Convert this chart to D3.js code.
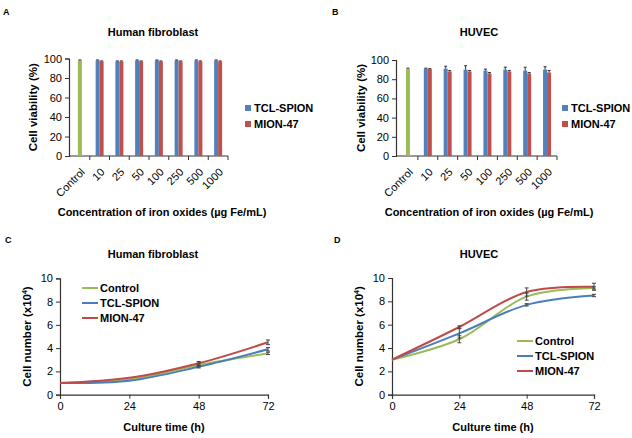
<!DOCTYPE html>
<html><head><meta charset="utf-8">
<script src="https://cdn.jsdelivr.net/npm/d3@7"></script>
<style>body{margin:0;background:#fff}svg{display:block;font-family:"Liberation Sans",Arial,sans-serif}</style>
</head><body>
<script>
// ---- data ----
const categories = ["Control","10","25","50","100","250","500","1000"];
const seriesNames = ["TCL-SPION","MION-47"];
const fibroControl = 98, fibroControlErr = 0.5;
const fibroTCL = [98,97,98,98,98,98,98];
const fibroTCLErr = [0.5,0.5,0.5,0.5,0.5,0.5,0.5];
const fibroMION = [97,97,97,97,97,97,97];
const fibroMIONErr = [0.5,0.5,0.5,0.5,0.5,0.5,0.5];
const huvecControl = 90.5, huvecControlErr = 1;
const huvecTCL = [91,91,90,89,90,89,90];
const huvecTCLErr = [0.5,2.5,4,1.5,2.5,3.5,3];
const huvecMION = [90.5,88,88,86,88,86,87];
const huvecMIONErr = [0.5,1,1,1,1,1,2];
const viabilityTicks = [0,20,40,60,80,100];

const timePoints = [0,24,48,72];
const growthNames = ["Control","TCL-SPION","MION-47"];
const fibroGrowth = [[1,1.3,2.55,3.55],[1,1.2,2.4,3.9],[1,1.45,2.7,4.5]];
const fibroGrowthErr = [[0,0,0.15,0.1],[0,0,0.1,0.15],[0,0,0.15,0.2]];
const huvecGrowth = [[3,4.75,8.4,9.15],[3,5.25,7.7,8.5],[3,5.8,8.8,9.25]];
const huvecGrowthErr = [[0,0.3,0.3,0.1],[0,0.4,0.1,0.1],[0,0.1,0.35,0.3]];
const countTicks = [0,2,4,6,8,10];

const barColors = {control:"#9BBB59", tcl:"#4F81BD", mion:"#C0504D"};
const lineColors = ["#9BBB59","#4A7EBB","#BE4B48"];

const svg = d3.select("body").append("svg").attr("width",632).attr("height",438);
const axisColor = "#333";

function label(t,x,y){svg.append("text").attr("x",x).attr("y",y).attr("font-size",9).attr("font-weight","bold").text(t);}

function barPanel(o){
  const g = svg.append("g");
  const x = d3.scaleBand().domain(categories).range([o.bx0,o.bx1]);
  const y = d3.scaleLinear().domain([0,100]).range([o.y0,o.y1]);
  const bw = 4;
  g.append("text").attr("x",o.tx).attr("y",o.ty).attr("text-anchor","middle").attr("font-size",11).attr("font-weight","bold").text(o.title);
  const ya = g.append("g").attr("transform",`translate(${o.x0},0)`).call(d3.axisLeft(y).tickValues(viabilityTicks).tickSize(4).tickPadding(3));
  ya.select(".domain").attr("stroke",axisColor).attr("stroke-width",1.2);
  ya.selectAll(".tick line").attr("stroke",axisColor);
  ya.selectAll("text").attr("font-size",11).attr("fill","#000").attr("font-family","Liberation Sans, Arial");
  g.append("line").attr("x1",o.x0).attr("x2",o.bx1).attr("y1",o.y0).attr("y2",o.y0).attr("stroke",axisColor).attr("stroke-width",1.2);
  categories.forEach((c,i)=>{
    const bx = x(c)+x.bandwidth();
    g.append("line").attr("x1",bx).attr("x2",bx).attr("y1",o.y0).attr("y2",o.y0+4).attr("stroke",axisColor);
  });
  categories.forEach(c=>{
    const cx = x(c)+x.bandwidth()/2;
    g.append("text").attr("transform",`translate(${cx+3},${o.y0+14}) rotate(-45)`).attr("text-anchor","end").attr("dy","0.35em").attr("font-size",11).text(c);
  });
  function errBar(cx,v,e){
    if(!e) return;
    g.append("line").attr("x1",cx).attr("x2",cx).attr("y1",y(v)).attr("y2",y(v+e)).attr("stroke","#333").attr("stroke-width",1);
    g.append("line").attr("x1",cx-1.5).attr("x2",cx+1.5).attr("y1",y(v+e)).attr("y2",y(v+e)).attr("stroke","#333").attr("stroke-width",1);
  }
  const c0 = x("Control")+x.bandwidth()/2;
  g.append("rect").attr("x",c0-bw/2).attr("width",bw).attr("y",y(o.control)).attr("height",y(0)-y(o.control)).attr("fill",barColors.control);
  errBar(c0,o.control,o.controlErr);
  categories.slice(1).forEach((c,i)=>{
    const cx = x(c)+x.bandwidth()/2;
    g.append("rect").attr("x",cx-bw).attr("width",bw).attr("y",y(o.tcl[i])).attr("height",y(0)-y(o.tcl[i])).attr("fill",barColors.tcl);
    g.append("rect").attr("x",cx).attr("width",bw).attr("y",y(o.mion[i])).attr("height",y(0)-y(o.mion[i])).attr("fill",barColors.mion);
    errBar(cx-bw/2,o.tcl[i],o.tclErr[i]);
    errBar(cx+bw/2,o.mion[i],o.mionErr[i]);
  });
  g.append("text").attr("transform",`translate(${o.ytx},${(o.y0+o.y1)/2}) rotate(-90)`).attr("text-anchor","middle").attr("font-size",11.5).attr("font-weight","bold").text("Cell viability (%)");
  g.append("text").attr("x",o.xtx).attr("y",o.xty).attr("text-anchor","middle").attr("font-size",11).attr("font-weight","bold").text("Concentration of iron oxides (µg Fe/mL)");
  [barColors.tcl,barColors.mion].forEach((col,i)=>{
    const ly = o.ly + i*16;
    g.append("rect").attr("x",o.lx).attr("y",ly-3).attr("width",6).attr("height",6).attr("fill",col);
    g.append("text").attr("x",o.lx+9).attr("y",ly).attr("dy","0.35em").attr("font-size",11).attr("font-weight","bold").text(seriesNames[i]);
  });
}

function linePanel(o){
  const g = svg.append("g");
  const x = d3.scaleLinear().domain([0,72]).range([o.x0,o.x1]);
  const y = d3.scaleLinear().domain([0,10]).range([o.y0,o.y1]);
  g.append("text").attr("x",o.tx).attr("y",o.ty).attr("text-anchor","middle").attr("font-size",11).attr("font-weight","bold").text(o.title);
  const ya = g.append("g").attr("transform",`translate(${o.x0},0)`).call(d3.axisLeft(y).tickValues(countTicks).tickSize(4).tickPadding(3));
  const xa = g.append("g").attr("transform",`translate(0,${o.y0})`).call(d3.axisBottom(x).tickValues(timePoints).tickSize(4).tickPadding(4));
  [ya,xa].forEach(a=>{
    a.select(".domain").attr("stroke",axisColor).attr("stroke-width",1.2);
    a.selectAll(".tick line").attr("stroke",axisColor);
    a.selectAll("text").attr("font-size",11).attr("fill","#000").attr("font-family","Liberation Sans, Arial");
  });
  const line = d3.line().x((d,i)=>x(timePoints[i])).y(d=>y(d)).curve(d3.curveCatmullRom.alpha(0.5));
  o.data.forEach((s,k)=>{
    g.append("path").attr("d",line(s)).attr("fill","none").attr("stroke",lineColors[k]).attr("stroke-width",2);
  });
  o.data.forEach((s,k)=>{
    s.forEach((v,i)=>{
      const e = o.err[k][i]; if(!e) return;
      const cx = x(timePoints[i]);
      g.append("line").attr("x1",cx).attr("x2",cx).attr("y1",y(v-e)).attr("y2",y(v+e)).attr("stroke","#444");
      g.append("line").attr("x1",cx-2).attr("x2",cx+2).attr("y1",y(v+e)).attr("y2",y(v+e)).attr("stroke","#444");
      g.append("line").attr("x1",cx-2).attr("x2",cx+2).attr("y1",y(v-e)).attr("y2",y(v-e)).attr("stroke","#444");
    });
  });
  g.append("text").attr("transform",`translate(${o.ytx},${(o.y0+o.y1)/2}) rotate(-90)`).attr("text-anchor","middle").attr("font-size",11.5).attr("font-weight","bold")
    .html('Cell number (x10<tspan font-size="7" dy="-4">4</tspan><tspan dy="4">)</tspan>');
  g.append("text").attr("x",(o.x0+o.x1)/2).attr("y",o.xty).attr("text-anchor","middle").attr("font-size",11).attr("font-weight","bold").text("Culture time (h)");
  growthNames.forEach((n,i)=>{
    const ly = o.ly + i*15;
    g.append("line").attr("x1",o.lx).attr("x2",o.lx+16).attr("y1",ly).attr("y2",ly).attr("stroke",lineColors[i]).attr("stroke-width",2);
    g.append("text").attr("x",o.lx+18).attr("y",ly).attr("dy","0.35em").attr("font-size",11).attr("font-weight","bold").text(n);
  });
}

label("A",3,15); label("B",332,15); label("C",5,243); label("D",334,243);

barPanel({title:"Human fibroblast",tx:153,ty:36,x0:69,bx0:70,bx1:228,y0:156,y1:58.5,control:fibroControl,controlErr:fibroControlErr,
  tcl:fibroTCL,tclErr:fibroTCLErr,mion:fibroMION,mionErr:fibroMIONErr,ytx:37,xtx:162,xty:216,lx:245,ly:108});
barPanel({title:"HUVEC",tx:479,ty:36,x0:396,bx0:398,bx1:557,y0:156,y1:60,control:huvecControl,controlErr:huvecControlErr,
  tcl:huvecTCL,tclErr:huvecTCLErr,mion:huvecMION,mionErr:huvecMIONErr,ytx:365,xtx:489,xty:216,lx:562,ly:108});
linePanel({title:"Human fibroblast",tx:153,ty:258,x0:60,x1:268,y0:394.7,y1:278.3,data:fibroGrowth,err:fibroGrowthErr,ytx:31,xty:431,lx:82,ly:288});
linePanel({title:"HUVEC",tx:479,ty:258,x0:392,x1:594,y0:394.7,y1:278,data:huvecGrowth,err:huvecGrowthErr,ytx:363,xty:431,lx:517,ly:341});
</script>
</body></html>
